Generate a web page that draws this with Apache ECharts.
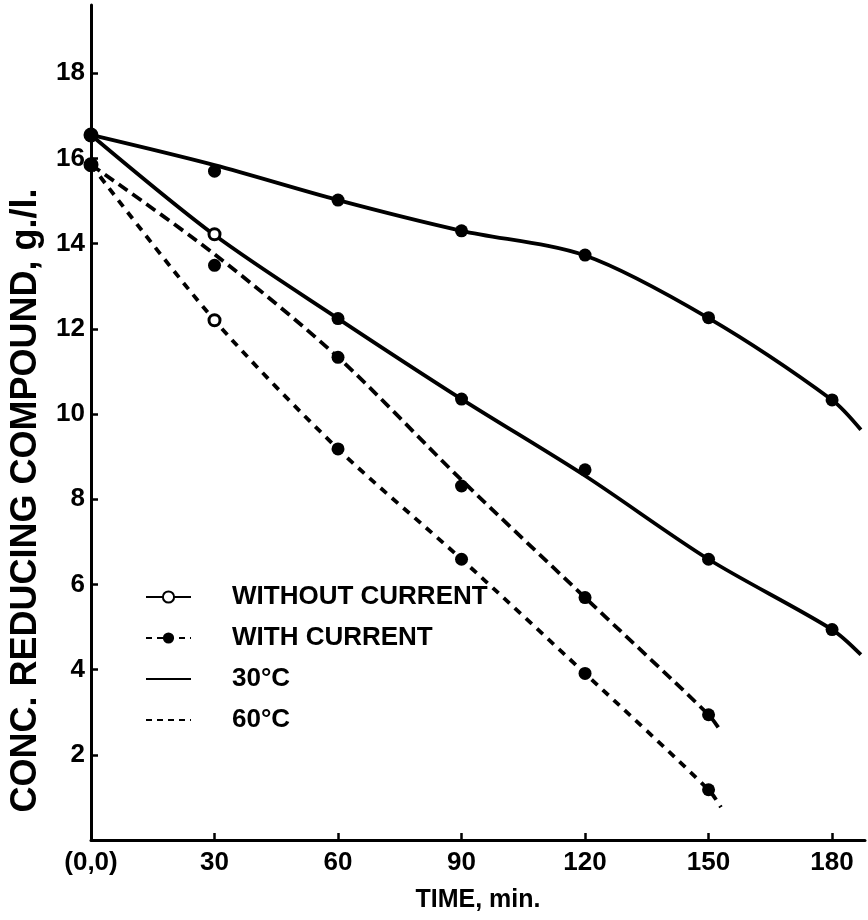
<!DOCTYPE html>
<html>
<head>
<meta charset="utf-8">
<title>Reducing compound vs time</title>
<script src="https://cdn.jsdelivr.net/npm/echarts@6.0.0/dist/echarts.min.js"></script>
<style>
  html, body { margin: 0; padding: 0; background: #fff; }
  #reducingChart { width: 868px; height: 920px; }
</style>
</head>
<body>
<div id="reducingChart"></div>
<script>
// axis ticks
const xTicks = [0, 30, 60, 90, 120, 150, 180]
const xTickLabels = ['(0,0)', '30', '60', '90', '120', '150', '180']
const yTicks = [2, 4, 6, 8, 10, 12, 14, 16, 18]

// drawn curves, [time min, conc g/l]
const curveWith30 = [[0, 16.55], [30, 15.84], [60, 15.02], [90, 14.3], [120, 13.72], [150, 12.25], [180, 10.33], [187, 9.63]]
const curveWithout30 = [[0, 16.55], [30, 14.2], [60, 12.24], [90, 10.35], [120, 8.55], [150, 6.59], [180, 4.94], [187, 4.35]]
const curveWith60 = [[0, 15.85], [30, 13.75], [60, 11.33], [90, 8.45], [120, 5.69], [150, 2.94], [153, 2.55]]
const curveWithout60 = [[0, 15.85], [30, 12.2], [60, 9.18], [90, 6.59], [120, 3.91], [150, 1.18], [153, 0.77]]

// measured points
const startPoints = [[0, 16.55], [0, 15.85]]
const openPoints = [[30, 14.22], [30, 12.2]]
const filledPoints = [
  [30, 15.7], [60, 15.02], [90, 14.3], [120, 13.73], [150, 12.26], [180, 10.33],
  [60, 12.24], [90, 10.35], [120, 8.69], [150, 6.59], [180, 4.94],
  [30, 13.49], [60, 11.33], [90, 8.31], [120, 5.69], [150, 2.94],
  [60, 9.18], [90, 6.59], [120, 3.91], [150, 1.18]
]

// legend entries
const legendNames = ['WITHOUT CURRENT', 'WITH CURRENT', '30°C', '60°C']

const font = "'Liberation Sans', Arial, sans-serif"
const ink = '#000'

const chart = echarts.init(document.getElementById('reducingChart'))

function curve(data, dash) {
  return {
    type: 'line',
    data: data,
    smooth: 0.3,
    showSymbol: false,
    silent: true,
    lineStyle: { color: ink, width: 3.8, type: dash || 'solid' },
    z: 2
  }
}

function legendOnly(name, dashed, symbol) {
  return {
    name: name,
    type: 'line',
    data: [],
    symbol: symbol,
    itemStyle: { color: ink },
    lineStyle: { color: ink, width: 3.8, type: dashed ? [6, 5] : 'solid' }
  }
}

chart.setOption({
  backgroundColor: '#fff',
  animation: false,
  textStyle: { fontFamily: font, color: ink },
  grid: { left: 90, right: 3, top: 5, bottom: 80 },
  legend: {
    data: [
      { name: legendNames[0] },
      { name: legendNames[1] },
      { name: legendNames[2], itemStyle: { opacity: 0 } },
      { name: legendNames[3], itemStyle: { opacity: 0 } }
    ],
    orient: 'vertical',
    left: 140,
    top: 579,
    itemWidth: 45,
    itemHeight: 14,
    itemGap: 15,
    selectedMode: false,
    textStyle: { fontFamily: font, fontSize: 26, fontWeight: 'bold', color: ink, padding: [0, 0, 0, 36] }
  },
  xAxis: {
    type: 'value',
    min: 0,
    max: 188,
    name: 'TIME, min.',
    nameLocation: 'middle',
    nameGap: 48,
    nameTextStyle: { fontFamily: font, fontSize: 25, fontWeight: 'bold', color: ink },
    axisLine: { lineStyle: { color: ink, width: 3 } },
    axisTick: { inside: true, length: 7, customValues: xTicks, lineStyle: { color: ink, width: 2.5 } },
    axisLabel: {
      customValues: xTicks,
      margin: 10,
      fontFamily: font,
      fontSize: 26,
      fontWeight: 'bold',
      color: ink,
      formatter: v => xTickLabels[xTicks.indexOf(v)]
    },
    splitLine: { show: false }
  },
  yAxis: {
    type: 'value',
    min: 0,
    max: 19.6,
    name: 'CONC. REDUCING COMPOUND, g./l.',
    nameLocation: 'middle',
    nameRotate: 90,
    nameGap: 47,
    nameTextStyle: { fontFamily: font, fontSize: 36, fontWeight: 'bold', color: ink, padding: [0, 156, 0, 0] },
    axisLine: { lineStyle: { color: ink, width: 3 } },
    axisTick: { inside: true, length: 7, customValues: yTicks, lineStyle: { color: ink, width: 2.5 } },
    axisLabel: {
      customValues: yTicks,
      margin: 6,
      fontFamily: font,
      fontSize: 26,
      fontWeight: 'bold',
      color: ink
    },
    splitLine: { show: false }
  },
  series: [
    curve(curveWith30),
    curve(curveWithout30),
    curve(curveWith60, [11, 6]),
    curve(curveWithout60, [8, 7]),
    {
      type: 'scatter',
      data: filledPoints,
      symbol: 'circle',
      symbolSize: 13,
      itemStyle: { color: ink, opacity: 1 },
      silent: true,
      z: 3
    },
    {
      type: 'scatter',
      data: openPoints,
      symbol: 'circle',
      symbolSize: 11,
      itemStyle: { color: '#fff', borderColor: ink, borderWidth: 3, opacity: 1 },
      silent: true,
      z: 3
    },
    {
      type: 'scatter',
      data: startPoints,
      symbol: 'circle',
      symbolSize: 15,
      itemStyle: { color: ink, opacity: 1 },
      silent: true,
      z: 3
    },
    legendOnly(legendNames[0], false, 'emptyCircle'),
    legendOnly(legendNames[1], true, 'circle'),
    legendOnly(legendNames[2], false, 'none'),
    legendOnly(legendNames[3], true, 'none')
  ]
})
</script>
</body>
</html>
